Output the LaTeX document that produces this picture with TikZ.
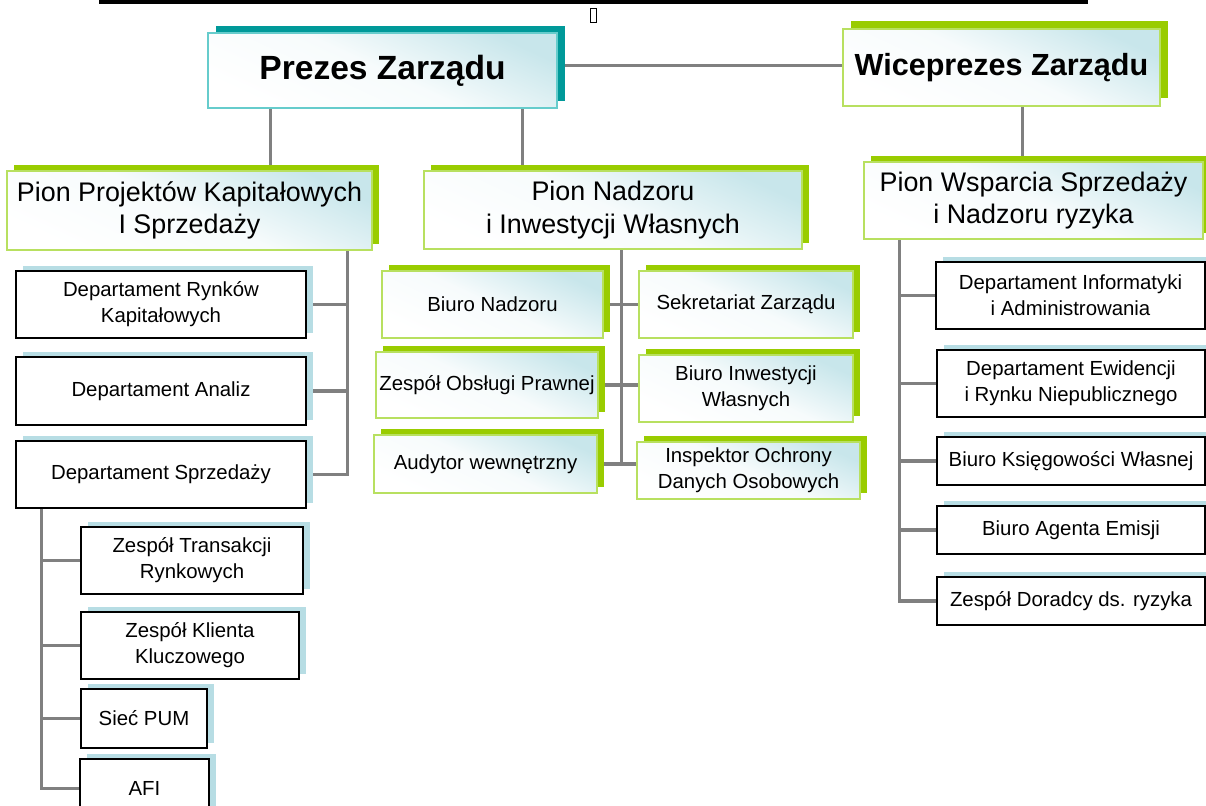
\documentclass[tikz,border=0pt]{standalone}
\usepackage{fontspec}
\setmainfont{Liberation Sans}
\usetikzlibrary{positioning,shadows,backgrounds}
\definecolor{conngray}{RGB}{128,128,128}
\definecolor{shteal}{RGB}{0,153,153}
\definecolor{presline}{RGB}{102,204,204}
\definecolor{shgreen}{RGB}{153,204,0}
\definecolor{greenline}{RGB}{184,224,96}
\definecolor{shblue}{RGB}{183,221,228}
\definecolor{tint}{RGB}{200,230,235}

\begin{document}
\begin{tikzpicture}[x=0.02cm, y=-0.02cm,
    font=\fontsize{11.6}{14.8}\selectfont,
    box/.style={rectangle, inner sep=0pt, align=center},
    sz/.style 2 args={minimum width=#1*0.02cm, minimum height=#2*0.02cm},
    grad/.style={top color=tint, bottom color=white, middle color=white!85!tint,
      shading angle=-25},
    chief/.style={box, grad, line width=0.8pt,
      font=\bfseries\fontsize{19.1}{22}\selectfont},
    lead/.style={box, grad, draw=greenline, line width=0.9pt,
      font=\fontsize{15.3}{18.6}\selectfont,
      general shadow={fill=shgreen, shadow xshift=0.14cm, shadow yshift=0.13cm}},
    cell/.style={box, grad, draw=greenline, line width=0.8pt,
      general shadow={fill=shgreen, shadow xshift=0.14cm, shadow yshift=0.12cm}},
    unit/.style={box, fill=white, draw=black, line width=0.7pt,
      general shadow={fill=shblue, shadow xshift=0.14cm, shadow yshift=0.11cm}},
    conn/.style={draw=conngray, line width=1.8pt}
  ]
  \useasboundingbox (0,0) rectangle (1206,805);
  \clip (0,0) rectangle (1206,805);

  % top rule
  \fill (99,0) rectangle (1088,3.5);
  \node[draw, line width=0.5pt, sz={6}{14}, inner sep=0pt] (tofu) at (593,15) {};

  % board
  \node[chief, sz={349}{75}, draw=presline,
    general shadow={fill=shteal, shadow xshift=0.16cm, shadow yshift=0.14cm}]
    (prezes) at (382.5,70.5) {Prezes Zarządu};
  \node[chief, sz={317}{77}, draw=greenline,
    font=\bfseries\fontsize{17.4}{20}\selectfont,
    general shadow={fill=shgreen, shadow xshift=0.16cm, shadow yshift=0.16cm}]
    (wice) at (1001.5,67.5) {Wiceprezes Zarządu};

  % divisions
  \node[lead, sz={365}{79}] (pionL) at (189.5,210.5) {Pion Projektów Kapitałowych\\I Sprzedaży};
  \node[lead, sz={378}{78}] (pionM) at (613,210) {Pion Nadzoru\\i Inwestycji Własnych};
  \node[lead, sz={339}{77}] (pionR) at (1033.5,200.5) {Pion Wsparcia Sprzedaży\\i Nadzoru ryzyka};

  % left column
  \node[unit, sz={290}{67}] (drk) at (161,304.5) {Departament Rynków\\Kapitałowych};
  \node[unit, sz={290}{68}] (dan) at (161,391) {Departament Analiz};
  \node[unit, sz={290}{67}] (dsp) at (161,474.5) {Departament Sprzedaży};
  \node[unit, sz={222}{67}] (ztr) at (192,560.5) {Zespół Transakcji\\Rynkowych};
  \node[unit, sz={218}{67}] (zkk) at (190,645.5) {Zespół Klienta\\Kluczowego};
  \node[unit, sz={126}{59}] (pum) at (144,718.5) {Sieć PUM};
  \node[unit, sz={129}{59}] (afi) at (144.5,788.5) {AFI};

  % middle column
  \node[cell, sz={221}{67}] (bnadz) at (492.5,304.5) {Biuro Nadzoru};
  \node[cell, sz={214}{67}] (sekr) at (746,304.5) {Sekretariat Zarządu};
  \node[cell, sz={222}{66}] (zop) at (487,385) {Zespół Obsługi Prawnej};
  \node[cell, sz={214}{67}] (biw) at (746,388.5) {Biuro Inwestycji\\Własnych};
  \node[cell, sz={223}{58}] (aud) at (485.5,464) {Audytor wewnętrzny};
  \node[cell, sz={223}{57}] (iodo) at (748.5,470.5) {Inspektor Ochrony\\Danych Osobowych};

  % right column
  \node[unit, sz={269}{67}] (dia) at (1070.5,295.5) {Departament Informatyki\\i Administrowania};
  \node[unit, sz={268}{67}] (dew) at (1071,383.5) {Departament Ewidencji\\i Rynku Niepublicznego};
  \node[unit, sz={268}{48}] (bkw) at (1071,461) {Biuro Księgowości Własnej};
  \node[unit, sz={268}{48}] (bae) at (1071,530) {Biuro Agenta Emisji};
  \node[unit, sz={268}{48}] (zdr) at (1071,601) {Zespół Doradcy ds. ryzyka};

  % connectors
  \begin{scope}[on background layer]
    \draw[conn] ([yshift=0.1cm]prezes.east) -- ([yshift=0.1cm]prezes.east -| wice.west);
    \path (prezes.south west) ++(63,0) coordinate (pa)
          (prezes.south east) ++(-35,0) coordinate (pb)
          (wice.south west) ++(180,0) coordinate (pc);
    \draw[conn] (pa) -- (pa |- pionL.north);
    \draw[conn] (pb) -- (pb |- pionM.north);
    \draw[conn] (pc) -- (pc |- pionR.north);

    \path (pionL.south east) ++(-25,0) coordinate (la);
    \draw[conn] (la) |- (dsp.east);
    \draw[conn] (drk.east) -- (drk.east -| la);
    \draw[conn] (dan.east) -- (dan.east -| la);
    \path (dsp.south west) ++(26,0) coordinate (lb);
    \draw[conn] (lb) |- (afi.west);
    \draw[conn] (ztr.west) -- (ztr.west -| lb);
    \draw[conn] (zkk.west) -- (zkk.west -| lb);
    \draw[conn] (pum.west) -- (pum.west -| lb);

    \path (pionM.south west) ++(198,0) coordinate (ma);
    \draw[conn] (ma) -- (ma |- aud.east);
    \draw[conn] (bnadz.east) -- (sekr.west);
    \draw[conn] (zop.east) -- (zop.east -| biw.west);
    \draw[conn] (aud.east) -- (aud.east -| iodo.west);

    \path (pionR.south west) ++(36,0) coordinate (ra);
    \draw[conn] (ra) |- (zdr.west);
    \draw[conn] (dia.west) -- (dia.west -| ra);
    \draw[conn] (dew.west) -- (dew.west -| ra);
    \draw[conn] (bkw.west) -- (bkw.west -| ra);
    \draw[conn] (bae.west) -- (bae.west -| ra);
  \end{scope}
\end{tikzpicture}
\end{document}
